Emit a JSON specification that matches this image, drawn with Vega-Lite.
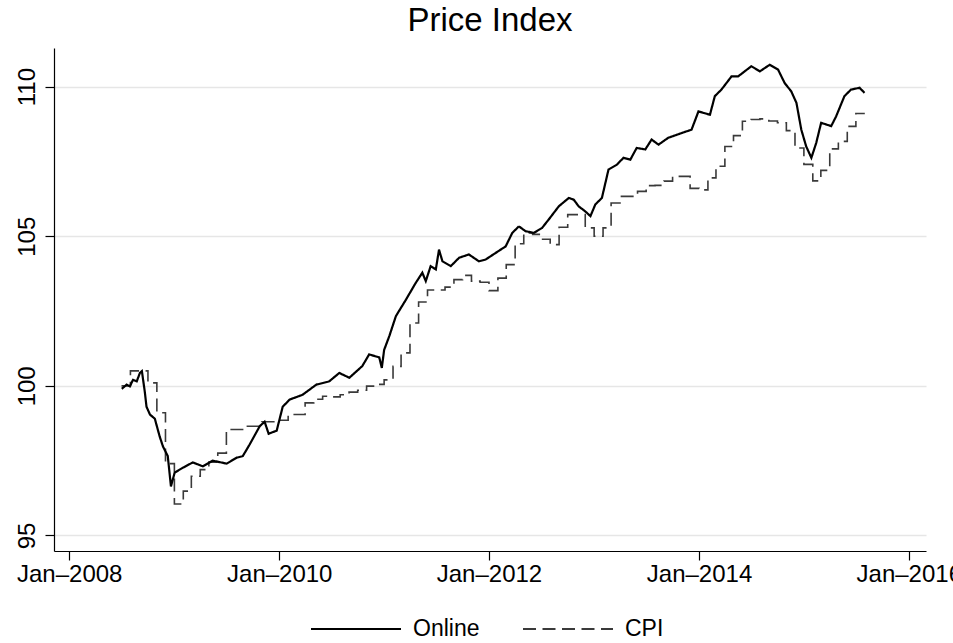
{
"$schema": "https://vega.github.io/schema/vega-lite/v6.json",
"width": 872, "height": 503,
"autosize": {"type": "none"},
"padding": {"left": 54, "top": 48, "right": 27, "bottom": 92},
"background": "white",
"title": {"text": "Price Index", "fontSize": 33, "font": "Liberation Sans", "fontWeight": "normal", "color": "black", "anchor": "middle", "offset": 10},
"config": {"view": {"stroke": null}, "font": "Liberation Sans", "legend": {"padding": 0}},
"datasets": {
"online": [
{"d":"2008-07-02","v":99.9,"s":"Online"},{"d":"2008-07-19","v":100.04,"s":"Online"},{"d":"2008-07-30","v":99.98,"s":"Online"},{"d":"2008-08-10","v":100.2,"s":"Online"},{"d":"2008-08-23","v":100.15,"s":"Online"},{"d":"2008-09-03","v":100.43,"s":"Online"},{"d":"2008-09-10","v":100.49,"s":"Online"},{"d":"2008-09-20","v":99.8,"s":"Online"},{"d":"2008-09-26","v":99.3,"s":"Online"},{"d":"2008-10-08","v":99.04,"s":"Online"},{"d":"2008-10-25","v":98.9,"s":"Online"},{"d":"2008-11-11","v":98.3,"s":"Online"},{"d":"2008-11-22","v":97.98,"s":"Online"},{"d":"2008-12-09","v":97.65,"s":"Online"},{"d":"2008-12-20","v":96.64,"s":"Online"},
{"d":"2009-01-02","v":97.1,"s":"Online"},{"d":"2009-01-30","v":97.26,"s":"Online"},{"d":"2009-03-06","v":97.44,"s":"Online"},{"d":"2009-04-10","v":97.31,"s":"Online"},{"d":"2009-05-14","v":97.5,"s":"Online"},{"d":"2009-07-02","v":97.4,"s":"Online"},{"d":"2009-08-06","v":97.6,"s":"Online"},{"d":"2009-08-27","v":97.65,"s":"Online"},{"d":"2009-09-20","v":98.04,"s":"Online"},{"d":"2009-10-25","v":98.65,"s":"Online"},{"d":"2009-11-11","v":98.8,"s":"Online"},{"d":"2009-11-25","v":98.4,"s":"Online"},{"d":"2009-12-23","v":98.5,"s":"Online"},
{"d":"2010-01-13","v":99.3,"s":"Online"},{"d":"2010-02-06","v":99.54,"s":"Online"},{"d":"2010-03-23","v":99.7,"s":"Online"},{"d":"2010-05-10","v":100.04,"s":"Online"},{"d":"2010-06-24","v":100.15,"s":"Online"},{"d":"2010-07-29","v":100.43,"s":"Online"},{"d":"2010-09-02","v":100.27,"s":"Online"},{"d":"2010-10-17","v":100.66,"s":"Online"},{"d":"2010-11-10","v":101.05,"s":"Online"},{"d":"2010-12-15","v":100.95,"s":"Online"},{"d":"2010-12-24","v":100.6,"s":"Online"},
{"d":"2011-01-01","v":101.2,"s":"Online"},{"d":"2011-01-19","v":101.66,"s":"Online"},{"d":"2011-02-11","v":102.33,"s":"Online"},{"d":"2011-03-18","v":102.88,"s":"Online"},{"d":"2011-04-21","v":103.44,"s":"Online"},{"d":"2011-05-14","v":103.78,"s":"Online"},{"d":"2011-05-26","v":103.5,"s":"Online"},{"d":"2011-06-12","v":104.0,"s":"Online"},{"d":"2011-06-30","v":103.89,"s":"Online"},{"d":"2011-07-11","v":104.55,"s":"Online"},{"d":"2011-07-23","v":104.16,"s":"Online"},{"d":"2011-08-21","v":104.0,"s":"Online"},{"d":"2011-09-19","v":104.28,"s":"Online"},{"d":"2011-10-23","v":104.39,"s":"Online"},{"d":"2011-11-27","v":104.16,"s":"Online"},{"d":"2011-12-20","v":104.22,"s":"Online"},
{"d":"2012-01-24","v":104.44,"s":"Online"},{"d":"2012-02-28","v":104.66,"s":"Online"},{"d":"2012-03-22","v":105.11,"s":"Online"},{"d":"2012-04-14","v":105.33,"s":"Online"},{"d":"2012-05-07","v":105.17,"s":"Online"},{"d":"2012-06-05","v":105.11,"s":"Online"},{"d":"2012-07-04","v":105.28,"s":"Online"},{"d":"2012-07-27","v":105.56,"s":"Online"},{"d":"2012-08-31","v":106.0,"s":"Online"},{"d":"2012-10-05","v":106.28,"s":"Online"},{"d":"2012-10-22","v":106.22,"s":"Online"},{"d":"2012-11-08","v":106.0,"s":"Online"},{"d":"2012-12-01","v":105.83,"s":"Online"},{"d":"2012-12-19","v":105.67,"s":"Online"},
{"d":"2013-01-05","v":106.06,"s":"Online"},{"d":"2013-01-28","v":106.28,"s":"Online"},{"d":"2013-02-20","v":107.23,"s":"Online"},{"d":"2013-03-21","v":107.39,"s":"Online"},{"d":"2013-04-13","v":107.62,"s":"Online"},{"d":"2013-05-07","v":107.56,"s":"Online"},{"d":"2013-05-29","v":107.95,"s":"Online"},{"d":"2013-06-28","v":107.9,"s":"Online"},{"d":"2013-07-20","v":108.23,"s":"Online"},{"d":"2013-08-13","v":108.06,"s":"Online"},{"d":"2013-09-16","v":108.29,"s":"Online"},{"d":"2013-11-02","v":108.45,"s":"Online"},{"d":"2013-12-06","v":108.56,"s":"Online"},{"d":"2013-12-30","v":109.17,"s":"Online"},
{"d":"2014-02-08","v":109.06,"s":"Online"},{"d":"2014-02-25","v":109.68,"s":"Online"},{"d":"2014-03-20","v":109.9,"s":"Online"},{"d":"2014-04-24","v":110.34,"s":"Online"},{"d":"2014-05-17","v":110.34,"s":"Online"},{"d":"2014-07-02","v":110.68,"s":"Online"},{"d":"2014-08-01","v":110.51,"s":"Online"},{"d":"2014-09-04","v":110.73,"s":"Online"},{"d":"2014-10-03","v":110.57,"s":"Online"},{"d":"2014-10-26","v":110.12,"s":"Online"},{"d":"2014-11-18","v":109.84,"s":"Online"},{"d":"2014-12-06","v":109.46,"s":"Online"},{"d":"2014-12-23","v":108.56,"s":"Online"},
{"d":"2015-01-09","v":108.0,"s":"Online"},{"d":"2015-01-27","v":107.62,"s":"Online"},{"d":"2015-02-13","v":108.12,"s":"Online"},{"d":"2015-03-02","v":108.79,"s":"Online"},{"d":"2015-04-06","v":108.68,"s":"Online"},{"d":"2015-04-23","v":109.0,"s":"Online"},{"d":"2015-05-22","v":109.68,"s":"Online"},{"d":"2015-06-14","v":109.9,"s":"Online"},{"d":"2015-07-14","v":109.96,"s":"Online"},{"d":"2015-07-31","v":109.79,"s":"Online"}
],
"cpi": [
{"d":"2008-07-01","v":100.0,"s":"CPI"},{"d":"2008-08-01","v":100.5,"s":"CPI"},{"d":"2008-09-01","v":100.5,"s":"CPI"},{"d":"2008-10-01","v":100.1,"s":"CPI"},{"d":"2008-11-01","v":99.1,"s":"CPI"},{"d":"2008-12-01","v":97.4,"s":"CPI"},
{"d":"2009-01-01","v":96.05,"s":"CPI"},{"d":"2009-02-01","v":96.48,"s":"CPI"},{"d":"2009-03-01","v":96.98,"s":"CPI"},{"d":"2009-04-01","v":97.2,"s":"CPI"},{"d":"2009-05-01","v":97.45,"s":"CPI"},{"d":"2009-06-01","v":97.75,"s":"CPI"},{"d":"2009-07-01","v":98.54,"s":"CPI"},{"d":"2009-08-01","v":98.54,"s":"CPI"},{"d":"2009-09-01","v":98.65,"s":"CPI"},{"d":"2009-10-01","v":98.65,"s":"CPI"},{"d":"2009-11-01","v":98.8,"s":"CPI"},{"d":"2009-12-01","v":98.8,"s":"CPI"},
{"d":"2010-01-01","v":98.85,"s":"CPI"},{"d":"2010-02-01","v":99.04,"s":"CPI"},{"d":"2010-03-01","v":99.04,"s":"CPI"},{"d":"2010-04-01","v":99.43,"s":"CPI"},{"d":"2010-05-01","v":99.55,"s":"CPI"},{"d":"2010-06-01","v":99.65,"s":"CPI"},{"d":"2010-07-01","v":99.63,"s":"CPI"},{"d":"2010-08-01","v":99.7,"s":"CPI"},{"d":"2010-09-01","v":99.79,"s":"CPI"},{"d":"2010-10-01","v":99.85,"s":"CPI"},{"d":"2010-11-01","v":99.99,"s":"CPI"},{"d":"2010-12-01","v":100.05,"s":"CPI"},
{"d":"2011-01-01","v":100.2,"s":"CPI"},{"d":"2011-02-01","v":100.65,"s":"CPI"},{"d":"2011-03-01","v":101.1,"s":"CPI"},{"d":"2011-04-01","v":102.1,"s":"CPI"},{"d":"2011-05-01","v":102.8,"s":"CPI"},{"d":"2011-06-01","v":103.2,"s":"CPI"},{"d":"2011-07-01","v":103.2,"s":"CPI"},{"d":"2011-08-01","v":103.3,"s":"CPI"},{"d":"2011-09-01","v":103.55,"s":"CPI"},{"d":"2011-10-01","v":103.69,"s":"CPI"},{"d":"2011-11-01","v":103.5,"s":"CPI"},{"d":"2011-12-01","v":103.46,"s":"CPI"},
{"d":"2012-01-01","v":103.18,"s":"CPI"},{"d":"2012-02-01","v":103.6,"s":"CPI"},{"d":"2012-03-01","v":104.05,"s":"CPI"},{"d":"2012-04-01","v":104.75,"s":"CPI"},{"d":"2012-05-01","v":105.11,"s":"CPI"},{"d":"2012-06-01","v":105.06,"s":"CPI"},{"d":"2012-07-01","v":104.9,"s":"CPI"},{"d":"2012-08-01","v":104.72,"s":"CPI"},{"d":"2012-09-01","v":105.3,"s":"CPI"},{"d":"2012-10-01","v":105.72,"s":"CPI"},{"d":"2012-11-01","v":105.72,"s":"CPI"},{"d":"2012-12-01","v":105.28,"s":"CPI"},
{"d":"2013-01-01","v":105.0,"s":"CPI"},{"d":"2013-02-01","v":105.28,"s":"CPI"},{"d":"2013-03-01","v":106.11,"s":"CPI"},{"d":"2013-04-01","v":106.33,"s":"CPI"},{"d":"2013-05-01","v":106.33,"s":"CPI"},{"d":"2013-06-01","v":106.5,"s":"CPI"},{"d":"2013-07-01","v":106.69,"s":"CPI"},{"d":"2013-08-01","v":106.7,"s":"CPI"},{"d":"2013-09-01","v":106.84,"s":"CPI"},{"d":"2013-10-01","v":107.0,"s":"CPI"},{"d":"2013-11-01","v":107.0,"s":"CPI"},{"d":"2013-12-01","v":106.6,"s":"CPI"},
{"d":"2014-01-01","v":106.55,"s":"CPI"},{"d":"2014-02-01","v":106.95,"s":"CPI"},{"d":"2014-03-01","v":107.34,"s":"CPI"},{"d":"2014-04-01","v":108.0,"s":"CPI"},{"d":"2014-05-01","v":108.36,"s":"CPI"},{"d":"2014-06-01","v":108.84,"s":"CPI"},{"d":"2014-07-01","v":108.9,"s":"CPI"},{"d":"2014-08-01","v":108.92,"s":"CPI"},{"d":"2014-09-01","v":108.85,"s":"CPI"},{"d":"2014-10-01","v":108.79,"s":"CPI"},{"d":"2014-11-01","v":108.53,"s":"CPI"},{"d":"2014-12-01","v":107.95,"s":"CPI"},
{"d":"2015-01-01","v":107.4,"s":"CPI"},{"d":"2015-02-01","v":106.85,"s":"CPI"},{"d":"2015-03-01","v":107.2,"s":"CPI"},{"d":"2015-04-01","v":107.92,"s":"CPI"},{"d":"2015-05-01","v":108.17,"s":"CPI"},{"d":"2015-06-01","v":108.67,"s":"CPI"},{"d":"2015-07-01","v":109.1,"s":"CPI"},{"d":"2015-08-01","v":109.1,"s":"CPI"}
]
},
"encoding": {
"x": {"field": "d", "type": "temporal",
 "scale": {"type": "utc", "domain": [{"year": 2007, "month": 11, "date": 9, "utc": true}, {"year": 2016, "month": 3, "date": 1, "utc": true}]},
 "axis": {"values": [{"year": 2008, "month": 1, "date": 1, "utc": true}, {"year": 2010, "month": 1, "date": 1, "utc": true}, {"year": 2012, "month": 1, "date": 1, "utc": true}, {"year": 2014, "month": 1, "date": 1, "utc": true}, {"year": 2016, "month": 1, "date": 1, "utc": true}],
  "labelExpr": "utcFormat(datum.value, '%b–%Y')", "title": null, "grid": false,
  "domainColor": "black", "domainWidth": 1.2, "tickColor": "black", "tickWidth": 1.2, "tickSize": 9,
  "labelFontSize": 24, "labelColor": "black", "labelPadding": 2, "labelFlush": false, "labelOverlap": false}},
"y": {"field": "v", "type": "quantitative",
 "scale": {"domain": [94.48, 111.29], "zero": false, "nice": false},
 "axis": {"values": [95, 100, 105, 110], "title": null, "grid": true, "gridColor": "#e6e6e6", "gridWidth": 1.5,
  "domainColor": "black", "domainWidth": 1.2, "tickColor": "black", "tickWidth": 1.2, "tickSize": 9,
  "labelAngle": -90, "labelFontSize": 24, "labelColor": "black", "labelPadding": 6, "labelFlush": false, "labelOverlap": false}},
"color": {"field": "s", "type": "nominal",
 "scale": {"domain": ["Online", "CPI"], "range": ["#000000", "#3a3a3a"]},
 "legend": {"orient": "none", "legendX": 256, "legendY": 535, "direction": "horizontal", "title": null, "symbolType": "stroke", "symbolSize": 8100, "symbolStrokeWidth": 1.8, "labelFontSize": 23, "labelColor": "black", "labelOffset": 11, "columnPadding": 39}},
"strokeDash": {"field": "s", "type": "nominal",
 "scale": {"domain": ["Online", "CPI"], "range": [[1, 0], [13, 6.5]]},
 "legend": {"orient": "none", "legendX": 256, "legendY": 535, "direction": "horizontal", "title": null, "symbolType": "stroke", "symbolSize": 8100, "symbolStrokeWidth": 1.8, "labelFontSize": 23, "labelColor": "black", "labelOffset": 11, "columnPadding": 39}}
},
"layer": [
{"data": {"name": "cpi"}, "mark": {"type": "line", "interpolate": "step-after", "strokeWidth": 1.6}},
{"data": {"name": "online"}, "mark": {"type": "line", "strokeWidth": 2.2}}
]
}
